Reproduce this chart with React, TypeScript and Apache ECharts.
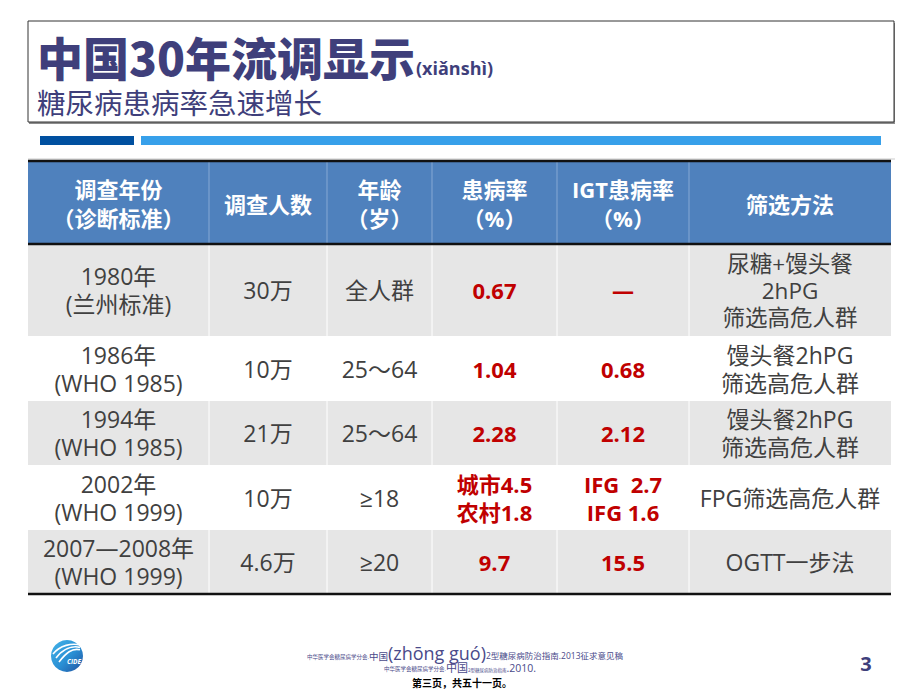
import React, { useEffect, useRef } from 'react';
import * as echarts from 'echarts';

// ---- Table content ----
const headers = ['调查年份\n（诊断标准）', '调查人数', '年龄\n（岁）', '患病率\n（%）', 'IGT患病率\n（%）', '筛选方法'];
const surveyYears = ['1980年', '1986年', '1994年', '2002年', '2007—2008年'];
const criteria = ['(兰州标准)', '(WHO 1985)', '(WHO 1985)', '(WHO 1999)', '(WHO 1999)'];
const sampleSizes = ['30万', '10万', '21万', '10万', '4.6万'];
const ageRanges = ['全人群', '25～64', '25～64', '≥18', '≥20'];
const prevalence = ['0.67', '1.04', '2.28', '城市4.5\n农村1.8', '9.7'];
const igtPrevalence = ['—', '0.68', '2.12', 'IFG  2.7\nIFG 1.6', '15.5'];
const screeningMethods = [
  '尿糖+馒头餐\n2hPG\n筛选高危人群',
  '馒头餐2hPG\n筛选高危人群',
  '馒头餐2hPG\n筛选高危人群',
  'FPG筛选高危人群',
  'OGTT一步法',
];

const titleMain = '中国30年流调显示';
const titlePinyin = '(xiǎnshì)';
const subtitle = '糖尿病患病率急速增长';
const pageNumber = '3';

// ---- Layout ----
const colX = [28, 209, 327, 432, 557, 689, 891];
const rowY = [161, 244, 336, 401, 465, 530, 594];

const FONT = '"Open Sans", "Noto Sans CJK SC", sans-serif';
const CJK = '"Noto Sans CJK SC", sans-serif';
const SLATE = '#3F3F7B';

export default function App() {
  const ref = useRef<HTMLDivElement>(null);

  useEffect(() => {
    const chart = echarts.init(ref.current!, null, { renderer: 'svg' });
    const el: any[] = [];

    // Title box with shadow
    el.push({ type: 'rect', shape: { x: 29, y: 23, width: 866, height: 101 }, style: { fill: '#8c8c8c' } });
    el.push({ type: 'rect', shape: { x: 28, y: 21, width: 866, height: 101 }, style: { fill: '#fff', stroke: '#333', lineWidth: 1 } });
    el.push({
      type: 'text', x: 37, y: 56,
      style: { text: titleMain, fill: SLATE, fontSize: 46, lineHeight: 46, fontWeight: 900, fontFamily: CJK, align: 'left', verticalAlign: 'middle' },
    });
    el.push({
      type: 'text', x: 416, y: 78,
      style: { text: titlePinyin, fill: SLATE, fontSize: 18, lineHeight: 20, fontWeight: 'bold', fontFamily: FONT, align: 'left', verticalAlign: 'bottom' },
    });
    el.push({
      type: 'text', x: 37, y: 101,
      style: { text: subtitle, fill: SLATE, fontSize: 28.5, lineHeight: 29, fontFamily: CJK, align: 'left', verticalAlign: 'middle' },
    });

    // Decorative bars
    el.push({ type: 'rect', shape: { x: 40, y: 136, width: 94, height: 9 }, style: { fill: '#0050A0' } });
    el.push({ type: 'rect', shape: { x: 141, y: 136, width: 740, height: 9 }, style: { fill: '#37A0EA' } });
    el.push({ type: 'line', shape: { x1: 28, y1: 159, x2: 895, y2: 159 }, style: { stroke: '#DDDDDD', lineWidth: 1.5 } });

    // Header background
    const tableW = colX[colX.length - 1] - colX[0];
    el.push({ type: 'rect', shape: { x: colX[0], y: rowY[0], width: tableW, height: rowY[1] - rowY[0] }, style: { fill: '#4F81BD' } });

    // Body row backgrounds
    for (let r = 0; r < surveyYears.length; r++) {
      el.push({
        type: 'rect',
        shape: { x: colX[0], y: rowY[r + 1], width: tableW, height: rowY[r + 2] - rowY[r + 1] },
        style: { fill: r % 2 === 0 ? '#E6E6E6' : '#FFFFFF' },
      });
    }

    // Vertical separators
    for (let c = 1; c < colX.length - 1; c++) {
      el.push({ type: 'line', shape: { x1: colX[c], y1: rowY[0], x2: colX[c], y2: rowY[1] }, style: { stroke: '#86A8D4', lineWidth: 1 } });
      el.push({ type: 'line', shape: { x1: colX[c], y1: rowY[1], x2: colX[c], y2: rowY[rowY.length - 1] }, style: { stroke: '#FFFFFF', lineWidth: 1 } });
    }

    // Thick borders
    const border = (y: number) =>
      el.push({ type: 'line', shape: { x1: colX[0], y1: y, x2: colX[colX.length - 1], y2: y }, style: { stroke: '#111', lineWidth: 2.5 } });
    border(rowY[0]);
    border(rowY[1]);
    border(rowY[rowY.length - 1]);

    // Header texts
    headers.forEach((h, c) => {
      el.push({
        type: 'text', x: (colX[c] + colX[c + 1]) / 2, y: (rowY[0] + rowY[1]) / 2 + 1,
        style: { text: h, fill: '#FFFFFF', fontSize: 22, fontWeight: 'bold', fontFamily: FONT, align: 'center', verticalAlign: 'middle', lineHeight: 29 },
      });
    });

    // Body texts
    for (let r = 0; r < surveyYears.length; r++) {
      const cells = [
        surveyYears[r] + '\n' + criteria[r],
        sampleSizes[r],
        ageRanges[r],
        prevalence[r],
        igtPrevalence[r],
        screeningMethods[r],
      ];
      cells.forEach((t, c) => {
        const red = c === 3 || c === 4;
        const lines = t.split('\n').length;
        el.push({
          type: 'text', x: (colX[c] + colX[c + 1]) / 2, y: (rowY[r + 1] + rowY[r + 2]) / 2,
          style: {
            text: t,
            fill: red ? '#C00000' : '#404040',
            fontSize: red ? 22 : lines > 2 ? 22.5 : 23,
            fontWeight: red ? 'bold' : 'normal',
            fontFamily: FONT,
            align: 'center',
            verticalAlign: 'middle',
            lineHeight: lines > 2 ? 27 : 28,
          },
        });
      });
    }

    // Logo
    el.push({
      type: 'circle', shape: { cx: 67, cy: 656, r: 16 },
      style: {
        fill: new echarts.graphic.LinearGradient(0, 0, 1, 1, [
          { offset: 0, color: '#45B4E8' },
          { offset: 0.55, color: '#2A8FD4' },
          { offset: 1, color: '#1F4F9E' },
        ]),
      },
    });
    [[0, 0], [3, 4], [6, 8]].forEach(([dx, dy]) => {
      el.push({
        type: 'bezierCurve',
        shape: { x1: 53 + dx, y1: 654 + dy, x2: 80, y2: 645 + dy * 0.6, cpx1: 60 + dx, cpy1: 645 + dy, cpx2: 72, cpy2: 643 + dy * 0.6 },
        style: { stroke: '#FFFFFF', lineWidth: 1.6, fill: 'none' },
      });
    });
    el.push({
      type: 'text', x: 74, y: 661,
      style: { text: 'CIDE', fill: '#FFFFFF', fontSize: 6.5, fontWeight: 'bold', fontStyle: 'italic', fontFamily: FONT, align: 'center', verticalAlign: 'middle' },
    });

    // Footer references
    el.push({
      type: 'text', x: 465, y: 662,
      style: {
        text: '{s|中华医学会糖尿病学分会.}{m|中国}{l|(zhōng guó)}{t|2型糖尿病防治指南.2013征求意见稿}',
        align: 'center', verticalAlign: 'bottom',
        rich: {
          s: { fontSize: 5.5, fill: '#4A4A8A', fontFamily: FONT, verticalAlign: 'bottom', padding: [0, 0, 2, 0] },
          m: { fontSize: 9.5, fill: '#4A4A8A', fontFamily: FONT, verticalAlign: 'bottom', padding: [0, 0, 1, 0] },
          l: { fontSize: 18, fill: '#4A4A8A', fontFamily: FONT, verticalAlign: 'bottom', lineHeight: 18 },
          t: { fontSize: 8.5, fill: '#4A4A8A', fontFamily: FONT, verticalAlign: 'bottom', padding: [0, 0, 2, 0] },
        },
      },
    });
    el.push({
      type: 'text', x: 460, y: 673,
      style: {
        text: '{s|中华医学会糖尿病学分会.}{m|中国}{x|2型糖尿病防治指南}{t|.2010.}',
        align: 'center', verticalAlign: 'bottom',
        rich: {
          s: { fontSize: 5.5, fill: '#4A4A8A', fontFamily: FONT, verticalAlign: 'bottom', padding: [0, 0, 1, 0] },
          m: { fontSize: 11, fill: '#4A4A8A', fontFamily: FONT, verticalAlign: 'bottom', lineHeight: 11 },
          x: { fontSize: 4.5, fill: '#4A4A8A', fontFamily: FONT, verticalAlign: 'bottom', padding: [0, 0, 1, 0] },
          t: { fontSize: 10.5, fill: '#4A4A8A', fontFamily: FONT, verticalAlign: 'bottom', lineHeight: 11 },
        },
      },
    });
    el.push({
      type: 'text', x: 462, y: 682,
      style: { text: '第三页，共五十一页。', fill: '#000', fontSize: 10, fontWeight: 'bold', fontFamily: CJK, align: 'center', verticalAlign: 'middle', lineHeight: 10 },
    });

    // Page number
    el.push({
      type: 'text', x: 866, y: 663,
      style: { text: pageNumber, fill: SLATE, fontSize: 20, fontWeight: 'bold', fontFamily: FONT, align: 'center', verticalAlign: 'middle' },
    });

    chart.setOption({ animation: false, graphic: { elements: el } });
    return () => chart.dispose();
  }, []);

  return (
    <div
      ref={ref}
      style={{ position: 'fixed', left: 0, top: 0, width: 920, height: 690, background: '#FFFFFF' }}
    />
  );
}
